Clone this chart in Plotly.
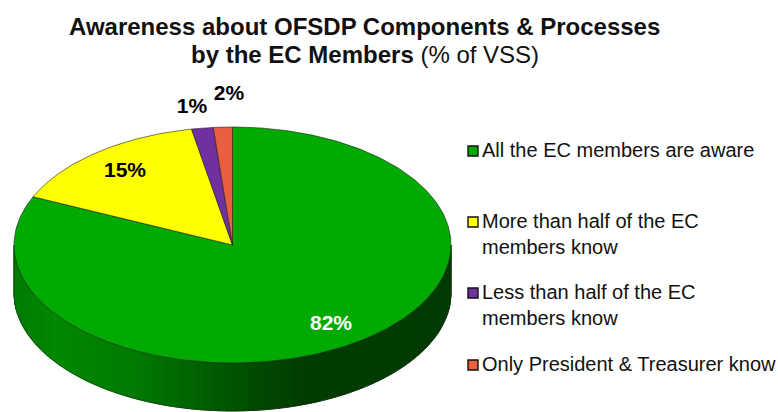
import math
import plotly.graph_objects as go

categories = ["All the EC members are aware", "More than half of the EC<br>members know",
              "Less than half of the EC<br>members know", "Only President &amp; Treasurer know"]
values = [81.7, 15.3, 1.6, 1.4]
value_labels = ["82%", "15%", "1%", "2%"]
colors = ["#00AA00", "#FFFF00", "#7030A0", "#E96040"]
title_bold_1 = "Awareness about OFSDP Components &amp; Processes"
title_bold_2 = "by the EC Members"
title_light = " (% of VSS)"

CX, CY, RX, RY, DEPTH = 232.5, 245, 218.5, 118, 48
side_stops = [(0.0, (0, 122, 0)), (0.10, (0, 136, 0)), (0.27, (0, 122, 0)), (0.43, (0, 96, 0)),
              (0.56, (0, 72, 0)), (0.66, (0, 60, 0)), (1.0, (0, 58, 0))]


def shade(f):
    for (a, ca), (b, cb) in zip(side_stops, side_stops[1:]):
        if f <= b:
            t = (f - a) / (b - a)
            return "rgb(%d,%d,%d)" % tuple(round(p + (q - p) * t) for p, q in zip(ca, cb))
    return "rgb(0,58,0)"


def pt(deg, dz=0):
    r = math.radians(deg)
    return CX + RX * math.sin(r), CY - RY * math.cos(r) + dz


fig = go.Figure()
N = 90
for i in range(N):
    a0, a1 = 90 + 180 * i / N, 90 + 180 * (i + 1) / N
    p = [pt(a0), pt(a1), pt(a1, DEPTH), pt(a0, DEPTH), pt(a0)]
    c = shade((pt((a0 + a1) / 2)[0] - (CX - RX)) / (2 * RX))
    fig.add_trace(go.Scatter(x=[q[0] for q in p], y=[q[1] for q in p], mode="lines", fill="toself",
                             fillcolor=c, line=dict(color=c, width=1), hoverinfo="skip", showlegend=False))

edge = [pt(90)] + [pt(90 + 2 * k, DEPTH) for k in range(91)] + [pt(270)]
fig.add_trace(go.Scatter(x=[q[0] for q in edge], y=[q[1] for q in edge], mode="lines",
                         line=dict(color="rgba(40,40,40,0.7)", width=0.8), hoverinfo="skip", showlegend=False))

start = 0.0
total = sum(values)
for v, col, cat in zip(values, colors, categories):
    span = 360 * v / total
    steps = max(4, int(span))
    arc = [pt(start + span * k / steps) for k in range(steps + 1)]
    p = [(CX, CY)] + arc + [(CX, CY)]
    fig.add_trace(go.Scatter(x=[q[0] for q in p], y=[q[1] for q in p], mode="lines", fill="toself",
                             fillcolor=col, line=dict(color="rgba(30,30,30,0.75)", width=0.8),
                             name=cat.replace("<br>", " "), hoverinfo="name", showlegend=False))
    start += span

label_x = [331, 125, 192, 229]
label_y = [325, 172, 108, 95]
label_c = ["white", "black", "black", "black"]
fig.add_trace(go.Scatter(x=label_x, y=label_y, mode="text", text=value_labels, cliponaxis=False,
                         textposition="middle center", hoverinfo="skip", showlegend=False,
                         textfont=dict(family="Liberation Sans", size=21, color=label_c, weight="bold")))

leg_y = [151, 222, 293, 365]
fig.add_trace(go.Scatter(x=[473] * 4, y=leg_y, mode="markers", hoverinfo="skip", showlegend=False,
                         marker=dict(symbol="square", size=10, color=colors, line=dict(color="#111", width=1.4))))
for y, cat in zip(leg_y, categories):
    fig.add_annotation(x=482, y=y - 13, xref="x", yref="y", text=cat, showarrow=False, xanchor="left",
                       yanchor="top", align="left", borderpad=0, xshift=-1,
                       font=dict(family="Liberation Sans", size=20, color="#111"))

for y, txt in zip([26, 54], [f"<b>{title_bold_1}</b>", f"<b>{title_bold_2}</b>{title_light}"]):
    fig.add_annotation(x=364.5, y=y, xref="x", yref="y", showarrow=False, xanchor="center", yanchor="middle",
                       align="center", borderpad=0, text=txt,
                       font=dict(family="Liberation Sans", size=24, color="#111"))

fig.update_layout(width=778, height=412, margin=dict(l=0, r=0, t=0, b=0), paper_bgcolor="white",
                  plot_bgcolor="white", showlegend=False,
                  xaxis=dict(range=[0, 778], visible=False, fixedrange=True),
                  yaxis=dict(range=[412, 0], visible=False, fixedrange=True))
fig.write_html("out.html", config=dict(displayModeBar=False),
               post_script="document.body.style.margin='0';document.body.style.overflow='hidden';")
